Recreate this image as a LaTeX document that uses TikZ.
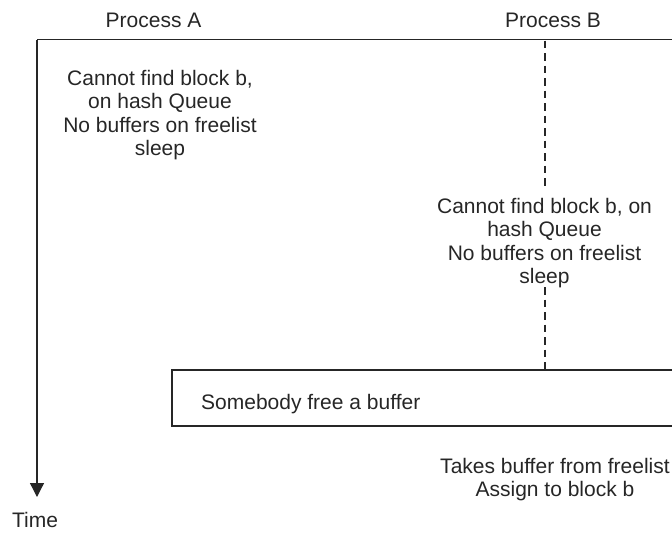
\documentclass[tikz,border=0pt]{standalone}
\usepackage{fontspec}
\setmainfont{Liberation Sans}
\usetikzlibrary{arrows.meta}
\tikzset{
  lbl/.style={font=\fontsize{21}{23.5}\selectfont, align=center, inner sep=0pt, text=black!85},
  axis/.style={line width=1.3pt, black!85},
  lifeline/.style={line width=1.8pt, black!85, dash pattern=on 7.5pt off 5pt},
  framebox/.style={line width=1.3pt, black!85}
}
\begin{document}
\begin{tikzpicture}[x=1pt, y=-1pt]
  \useasboundingbox (0,0) rectangle (672,533);

  % column headings
  \node[lbl, anchor=base] (procA) at (153.5,27) {Process A};
  \node[lbl, anchor=base] (procB) at (553,27) {Process B};

  % time axis and header rule
  \coordinate (origin) at (37,39.5);
  \coordinate (ruleEnd) at (672,39.5);
  \coordinate (timeEnd) at (37,497);
  \draw[axis] (ruleEnd) -- (origin);
  \draw[axis, -{Triangle[width=14pt,length=14pt]}] (origin) -- (timeEnd);
  \node[lbl, anchor=base] (timelbl) at (35,527) {Time};

  % process A
  \node[lbl] (txtA) at (160,115) {Cannot find block b,\\on hash Queue\\No buffers on freelist\\sleep};

  % process B
  \node[lbl] (txtB) at (544.5,243) {Cannot find block b, on\\hash Queue\\No buffers on freelist\\sleep};

  % event box, open to the right
  \coordinate (boxTR) at (672,370);
  \coordinate (boxTL) at (172,370);
  \coordinate (boxBL) at (172,426);
  \coordinate (boxBR) at (672,426);
  \draw[framebox] (boxTR) -- (boxTL) -- (boxBL) -- (boxBR);
  \node[lbl, anchor=base west] (boxtxt) at (201,409) {Somebody free a buffer};

  % lifeline of process B
  \coordinate (lbTop) at (545,40.5);
  \coordinate (lbA) at (545,187);
  \coordinate (lbB) at (545,287);
  \coordinate (lbBot) at (545,369);
  \draw[lifeline] (lbTop) -- (lbA);
  \draw[lifeline] (lbB) -- (lbBot);

  % after wakeup
  \node[lbl] (txtC) at (555,479.5) {Takes buffer from freelist\\Assign to block b};
\end{tikzpicture}
\end{document}
